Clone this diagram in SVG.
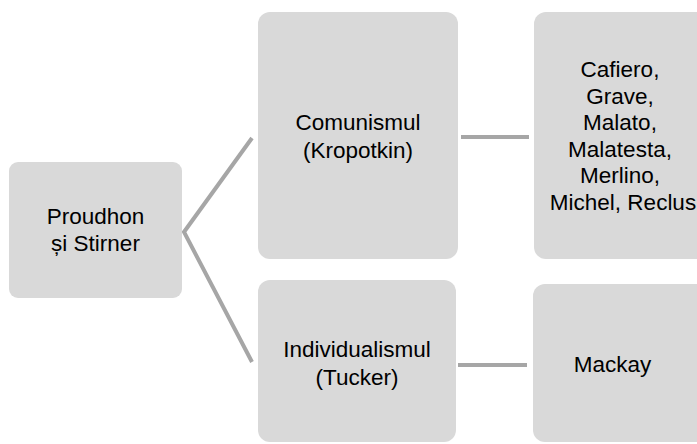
<svg xmlns="http://www.w3.org/2000/svg" width="697" height="444" viewBox="0 0 697 444">
<style>
.n{fill:#d9d9d9}
.t{font-family:"Liberation Sans",Arial,sans-serif;font-size:22.5px;fill:#000;text-anchor:middle}
.c{stroke:#a6a6a6;stroke-width:4;fill:none}
</style>
<rect width="697" height="444" fill="#fff"/>
<g id="connectors">
<polyline class="c" points="252,138 184,232 252,362"/>
<line class="c" x1="461" y1="137" x2="529" y2="137"/>
<line class="c" x1="458" y1="365" x2="527" y2="365"/>
</g>
<g id="n1"><rect class="n" x="9" y="162" width="173" height="136" rx="9"/>
<text class="t"><tspan x="95.5" y="224">Proudhon</tspan><tspan x="95.5" y="251">și Stirner</tspan></text></g>
<g id="n2"><rect class="n" x="258" y="12" width="200" height="247" rx="12"/>
<text class="t"><tspan x="358" y="130">Comunismul</tspan><tspan x="358" y="158">(Kropotkin)</tspan></text></g>
<g id="n3"><rect class="n" x="258" y="280" width="198" height="162" rx="12"/>
<text class="t"><tspan x="357" y="357">Individualismul</tspan><tspan x="357" y="385">(Tucker)</tspan></text></g>
<g id="n4"><rect class="n" x="534" y="12" width="175" height="247" rx="12"/>
<text class="t"><tspan x="620" y="77">Cafiero,</tspan><tspan x="620" y="104">Grave,</tspan><tspan x="620" y="130">Malato,</tspan><tspan x="620" y="157">Malatesta,</tspan><tspan x="620" y="183">Merlino,</tspan><tspan x="623" y="210">Michel, Reclus</tspan></text></g>
<g id="n5"><rect class="n" x="533" y="284" width="176" height="158" rx="12"/>
<text class="t"><tspan x="612.5" y="372">Mackay</tspan></text></g>
</svg>
